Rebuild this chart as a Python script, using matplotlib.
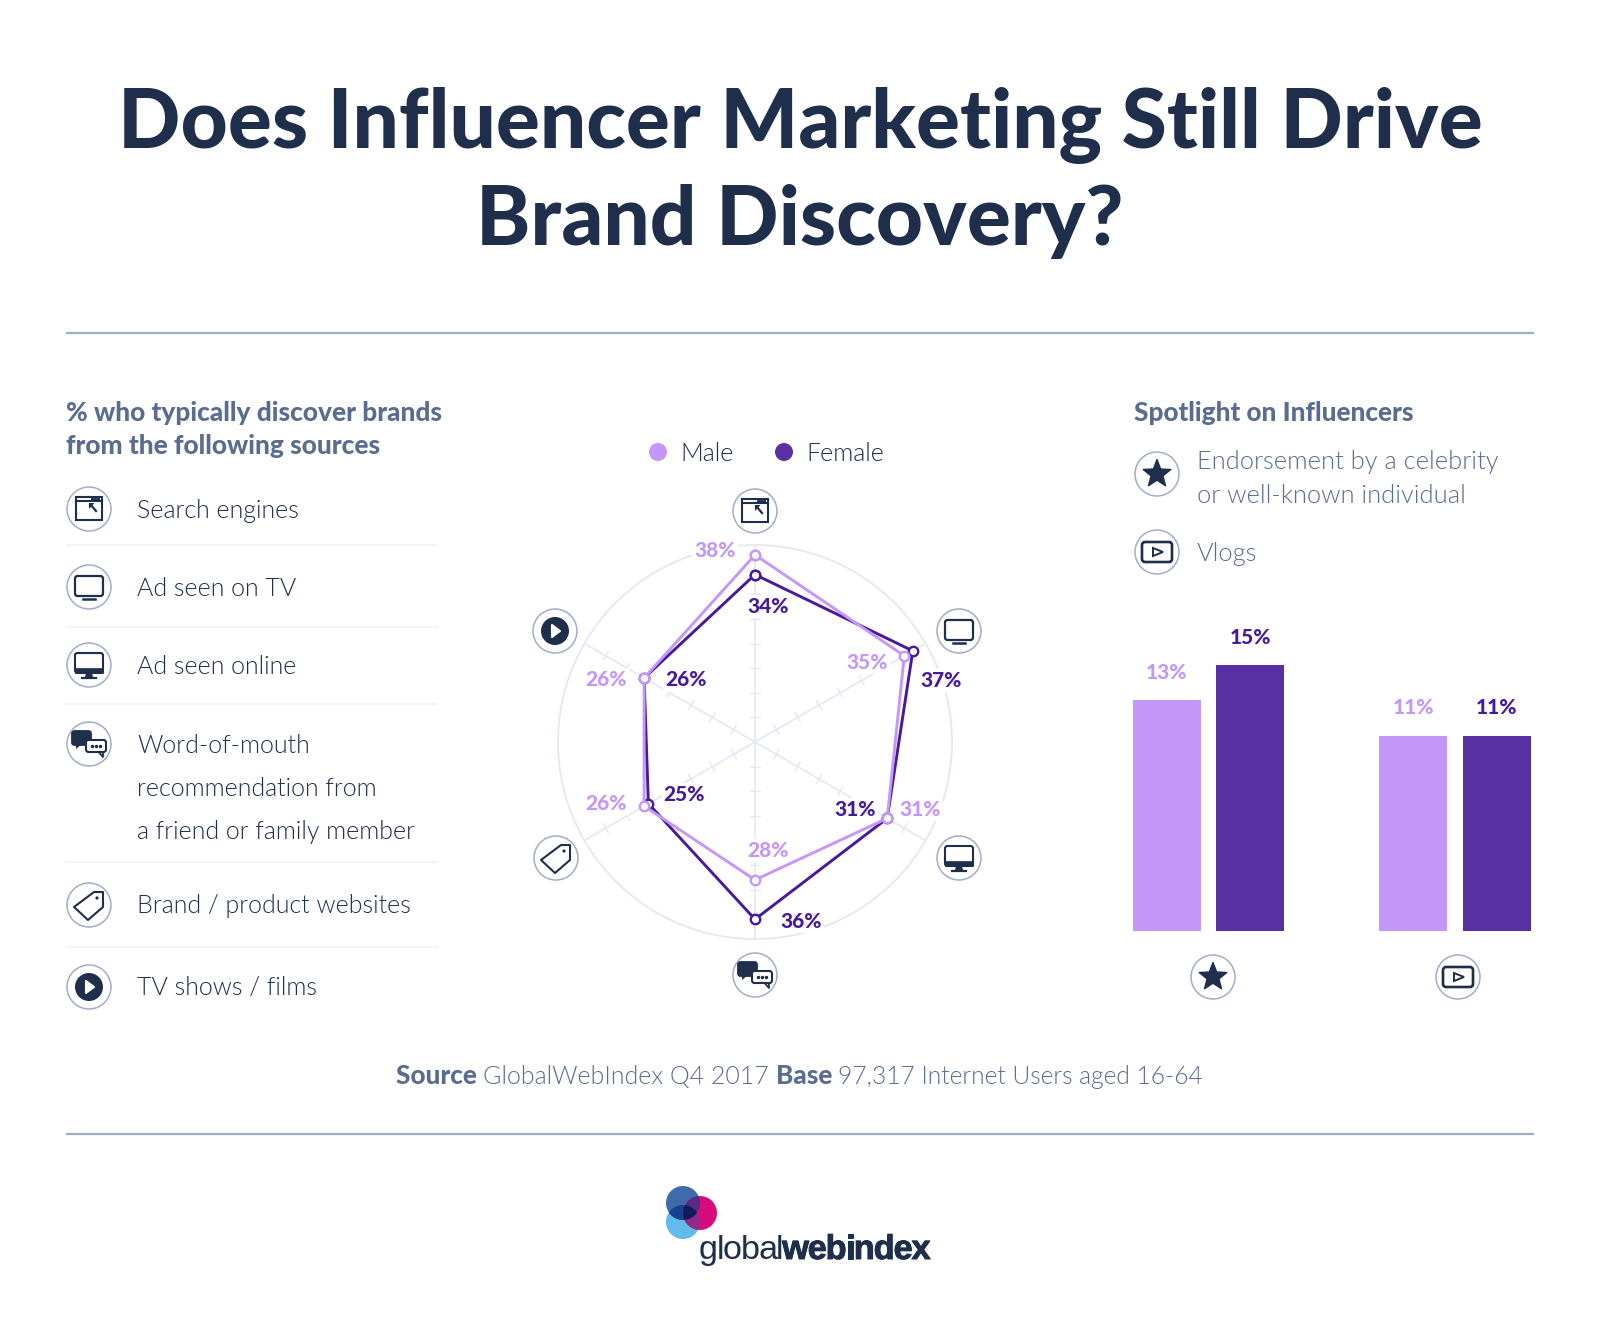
#!/usr/bin/env python3
"""Does influencer marketing still drive brand discovery - radar and bars."""

import numpy as np
import matplotlib
matplotlib.use("Agg")
import matplotlib.pyplot as plt
import matplotlib.patheffects as pe
from matplotlib import font_manager as fm
from matplotlib.patches import Circle, FancyBboxPatch, Polygon, Rectangle

plt.rcParams["font.family"] = ["Lato", "DejaVu Sans"]

# Data
sources = ["Search engines", "Ad seen on TV", "Ad seen online",
           "Word-of-mouth\nrecommendation from\na friend or family member",
           "Brand / product websites", "TV shows / films"]
male = [38, 35, 31, 28, 26, 26]
female = [34, 37, 31, 36, 25, 26]
influencer_kinds = ["Endorsement", "Vlogs"]
male_infl = [13, 11]
female_infl = [15, 11]

NAVY = "#1F2E4B"
SLATE = "#5A6C90"
RULE = "#A3ADC9"
MALE = "#C497F9"
FEMALE = "#5930A1"
FEMALE_TXT = "#47199C"
GRID = "#E4E7F4"
W, H = 1600, 1333

# Lato's light cut, weight matching alone lands on the hairline one
light_files = [f.fname for f in fm.fontManager.ttflist
               if f.name.startswith("Lato") and f.fname.endswith(("Lato-Light.ttf", "Lato-Light.otf"))]


def body(size):
    if light_files:
        return dict(fontproperties=fm.FontProperties(fname=light_files[0], size=size))
    return dict(fontsize=size, fontweight="normal")


fig = plt.figure(figsize=(16, 13.33), dpi=100, facecolor="white")

# full page axes in pixel coordinates for the furniture
page = fig.add_axes([0, 0, 1, 1], zorder=0)
page.set_xlim(0, W)
page.set_ylim(H, 0)
page.axis("off")
top = fig.add_axes([0, 0, 1, 1], zorder=5)
top.set_xlim(0, W)
top.set_ylim(H, 0)
top.axis("off")
top.patch.set_alpha(0)


def run_text(ax, x, y, runs):
    """Put text runs of different weight one after the other."""
    rend = fig.canvas.get_renderer()
    for txt, bold, size in runs:
        style = dict(fontsize=size, fontweight="black") if bold else body(size)
        t = ax.text(x, y, txt, color=SLATE, va="baseline", **style)
        x += t.get_window_extent(rend).width


def tracked(ax, x, y, txt, size, weight, color, family, track, effects=None):
    rend = fig.canvas.get_renderer()
    for ch in txt:
        t = ax.text(x, y, ch, fontsize=size, fontweight=weight, color=color,
                    family=family, va="baseline", path_effects=effects)
        x += t.get_window_extent(rend).width + track
    return x


def rbox(ax, x0, y0, x1, y1, pad=2.5, fc="none", ec=NAVY, lw=1.3):
    ax.add_patch(FancyBboxPatch((x0, y0), x1 - x0, y1 - y0,
                                boxstyle=f"round,pad=0,rounding_size={pad}",
                                fc=fc, ec=ec, lw=lw))


def icon(ax, kind, cx, cy):
    ax.add_patch(Circle((cx, cy), 22, fc="white", ec=RULE, lw=1.1))
    if kind == "browser":
        ax.add_patch(Rectangle((cx - 13, cy - 12), 26, 23, fc="none", ec=NAVY, lw=1.5))
        ax.plot([cx - 13, cx + 13], [cy - 8.5, cy - 8.5], color=NAVY, lw=1.5)
        ax.plot([cx + 3, cx + 6, cx + 9], [cy - 10.5] * 3, ls="none", marker="s", ms=1.2, color=NAVY)
        ax.plot([cx + 2, cx + 7], [cy - 4, cy + 2], color=NAVY, lw=1.6)
        ax.add_patch(Polygon([(cx, cy - 6), (cx + 5.5, cy - 6), (cx, cy)], fc=NAVY, ec="none"))
    elif kind == "tv":
        rbox(ax, cx - 14, cy - 11, cx + 14, cy + 9, lw=1.6)
        ax.plot([cx - 6, cx + 6], [cy + 11.5, cy + 11.5], color=NAVY, lw=1.8)
    elif kind == "monitor":
        rbox(ax, cx - 14, cy - 12, cx + 14, cy + 8, lw=1.5)
        ax.add_patch(Rectangle((cx - 14, cy + 3), 28, 5, fc=NAVY, ec=NAVY, lw=0.5))
        ax.add_patch(Polygon([(cx - 3, cy + 8), (cx + 3, cy + 8), (cx + 4, cy + 12), (cx - 4, cy + 12)],
                             fc=NAVY, ec="none"))
        ax.plot([cx - 7, cx + 7], [cy + 12.5, cy + 12.5], color=NAVY, lw=1.6)
    elif kind == "chat":
        rbox(ax, cx - 17, cy - 13, cx + 2, cy + 1, fc=NAVY)
        ax.add_patch(Polygon([(cx - 13, cy), (cx - 7, cy), (cx - 13, cy + 5)], fc=NAVY, ec="none"))
        rbox(ax, cx - 3, cy - 4, cx + 17, cy + 8, fc="white", lw=1.5)
        ax.plot([cx + 10, cx + 14, cx + 14], [cy + 8.5, cy + 13, cy + 8.5], color=NAVY, lw=1.3)
        ax.plot([cx + 3, cx + 7, cx + 11], [cy + 2] * 3, ls="none", marker="o", ms=1.5, color=NAVY)
    elif kind == "tag":
        pts = [(-15, 2), (5, -13), (14, -13), (14, 2), (-1, 15)]
        ax.add_patch(Polygon([(cx + a, cy + b) for a, b in pts], closed=True, fc="none",
                             ec=NAVY, lw=1.5, joinstyle="round"))
        ax.add_patch(Circle((cx + 8, cy - 7), 1.6, fc=NAVY, ec="none"))
    elif kind == "play":
        ax.add_patch(Circle((cx, cy), 14, fc=NAVY, ec="none"))
        ax.add_patch(Polygon([(cx - 3, cy - 6), (cx + 5, cy), (cx - 3, cy + 6)], fc="white",
                             ec="white", lw=1.5, joinstyle="round"))
    elif kind == "star":
        ang = np.pi / 2 + np.arange(10) * np.pi / 5
        rad = np.where(np.arange(10) % 2 == 0, 14.5, 6.2)
        ax.add_patch(Polygon(np.c_[cx + rad * np.cos(ang), cy - rad * np.sin(ang)], fc=NAVY, ec=NAVY,
                             lw=1, joinstyle="round"))
    elif kind == "vlog":
        rbox(ax, cx - 15, cy - 10, cx + 15, cy + 10, pad=3, lw=1.9)
        ax.add_patch(Polygon([(cx - 4, cy - 4), (cx + 6, cy), (cx - 4, cy + 4)], fc="none", ec=NAVY, lw=1.4))


# Title
page.text(800, 148, "Does Influencer Marketing Still Drive", ha="center", va="baseline",
          fontsize=59, fontweight="black", color=NAVY)
page.text(800, 245, "Brand Discovery?", ha="center", va="baseline",
          fontsize=59, fontweight="black", color=NAVY)
for yy in [333, 1134]:
    page.plot([66, 1534], [yy, yy], color=RULE, lw=1.6, solid_capstyle="butt")

# Left list
page.text(66, 421, "% who typically discover brands", fontsize=18.9, fontweight="black", color=SLATE)
page.text(66, 454, "from the following sources", fontsize=18.9, fontweight="black", color=SLATE)
list_icons = ["browser", "tv", "monitor", "chat", "tag", "play"]
icon_y = [509, 587, 665, 744, 905, 987]
text_y = [518, 596, 674, 753, 913, 995]
for kind, iy, ty, label in zip(list_icons, icon_y, text_y, sources):
    icon(page, kind, 89, iy)
    for i, line in enumerate(label.split("\n")):
        page.text(137, ty + i * 43, line, color=NAVY, va="baseline", **body(18))
for yy in [545, 627, 704, 862, 947]:
    page.plot([66, 437], [yy, yy], color="#F0F1F7", lw=1.1)

# Legend
page.add_patch(Circle((658, 452), 9, fc=MALE, ec="none"))
page.add_patch(Circle((784, 452), 9, fc=FEMALE, ec="none"))
page.text(680, 461, "Male", color=NAVY, **body(18))
page.text(806, 461, "Female", color=NAVY, **body(18))

# Radar
cx, cy, rad = 755, 742, 197
radar = fig.add_axes([(cx - rad) / W, (H - cy - rad) / H, 2 * rad / W, 2 * rad / H],
                     projection="polar", zorder=2)
radar.set_theta_zero_location("N")
radar.set_theta_direction(-1)
radar.set_ylim(0, 40)
radar.set_xticks([])
radar.set_yticks([])
radar.grid(False)
radar.patch.set_alpha(0)
radar.spines["polar"].set_color(GRID)
radar.spines["polar"].set_linewidth(1.3)
theta = np.arange(len(male)) * 2 * np.pi / len(male)
tick_half = 1.05
for th in theta:
    radar.plot([th, th], [0, 40], color=GRID, lw=1.2, zorder=1)
    for r in range(5, 40, 5):
        dth = np.arctan(tick_half / r)
        rr = np.hypot(r, tick_half)
        radar.plot([th - dth, th + dth], [rr, rr], color=GRID, lw=1.0, zorder=1)

male_off = [(-40, 4), (-37, -7), (33, 9), (13, 29), (-38, 3), (-38, -2)]
female_off = [(13, -32), (28, -30), (-32, 9), (46, -2), (36, 9), (42, -2)]
for vals, col, offs, z in [(female, FEMALE_TXT, female_off, 4), (male, MALE, male_off, 5)]:
    th = np.r_[theta, theta[0]]
    vv = np.r_[vals, vals[0]]
    radar.plot(th, vv, color=col, lw=2.1, zorder=z, marker="o", ms=6.8, mfc="white",
               mew=1.7, mec=col, clip_on=False)
    for t, v, off in zip(theta, vals, offs):
        radar.annotate(f"{v}%", (t, v), xytext=off, textcoords="offset pixels", ha="center", va="center",
                       fontsize=15, fontweight="black", color=col, zorder=3,
                       bbox=dict(fc="white", ec="none", pad=1.5))

for kind, (ix, iy) in zip(list_icons, [(755, 511), (959, 631), (959, 858), (755, 975), (556, 858), (555, 631)]):
    icon(top, kind, ix, iy)

# Spotlight panel
page.text(1134, 421, "Spotlight on Influencers", fontsize=18.8, fontweight="black", color=SLATE)
icon(page, "star", 1157, 474)
icon(page, "vlog", 1157, 552)
page.text(1197, 469, "Endorsement by a celebrity", color=SLATE, **body(18.3))
page.text(1197, 503, "or well-known individual", color=SLATE, **body(18.3))
page.text(1197, 561, "Vlogs", color=SLATE, **body(18.3))

bars = fig.add_axes([1133 / W, (H - 931) / H, (1531 - 1133) / W, (931 - 665) / H], zorder=2)
xpos = np.arange(len(influencer_kinds))
bw, shift = 0.276, 0.1694
b1 = bars.bar(xpos - shift, male_infl, bw, color=MALE)
b2 = bars.bar(xpos + shift, female_infl, bw, color=FEMALE)
bars.set_xlim(-0.306, 1.308)
bars.set_ylim(0, 15)
bars.axis("off")
for bs, col in [(b1, MALE), (b2, FEMALE_TXT)]:
    for b in bs:
        bars.annotate(f"{b.get_height():.0f}%", (b.get_x() + b.get_width() / 2, b.get_height()),
                      xytext=(0, 28), textcoords="offset pixels", ha="center", va="center",
                      fontsize=15, fontweight="black", color=col, annotation_clip=False)
icon(page, "star", 1213, 977)
icon(page, "vlog", 1458, 977)

# Source line
run_text(page, 396, 1084, [("Source ", True, 18.8), ("GlobalWebIndex Q4 2017 ", False, 18),
                           ("Base ", True, 18.8), ("97,317 Internet Users aged 16-64", False, 17.7)])

# Logo
logo = [((683, 1222), "#62BBE8"), ((700, 1213), "#D60B7E"), ((683, 1203), "#3F6BAD")]
logo_r = 17
for (c, col) in logo:
    page.add_patch(Circle(c, logo_r, fc=col, ec="none"))


def lens(centers):
    """Polygon of the overlap of equal circles."""
    ang = np.linspace(0, 2 * np.pi, 240)
    pts = np.vstack([np.c_[c[0] + logo_r * np.cos(ang), c[1] + logo_r * np.sin(ang)] for c in centers])
    keep = np.all([np.hypot(pts[:, 0] - c[0], pts[:, 1] - c[1]) <= logo_r + 1e-6 for c in centers], axis=0)
    pts = pts[keep]
    mid = pts.mean(axis=0)
    return pts[np.argsort(np.arctan2(pts[:, 1] - mid[1], pts[:, 0] - mid[0]))]


light_c, pink_c, blue_c = [c for c, _ in logo]
for group, col in [((light_c, blue_c), "#17418F"), ((pink_c, blue_c), "#5A2A85"),
                   ((pink_c, light_c), "#8E2C8C"), ((light_c, pink_c, blue_c), "#101C5C")]:
    page.add_patch(Polygon(lens(group), fc=col, ec="none"))

end = tracked(page, 699, 1259, "global", 24.7, "normal", NAVY, "Liberation Sans", -1.3)
tracked(page, end, 1259, "webindex", 24.7, "bold", NAVY, "Liberation Sans", -1.1,
        [pe.withStroke(linewidth=0.7, foreground=NAVY)])

fig.savefig("out.png", dpi=100, facecolor="white")
